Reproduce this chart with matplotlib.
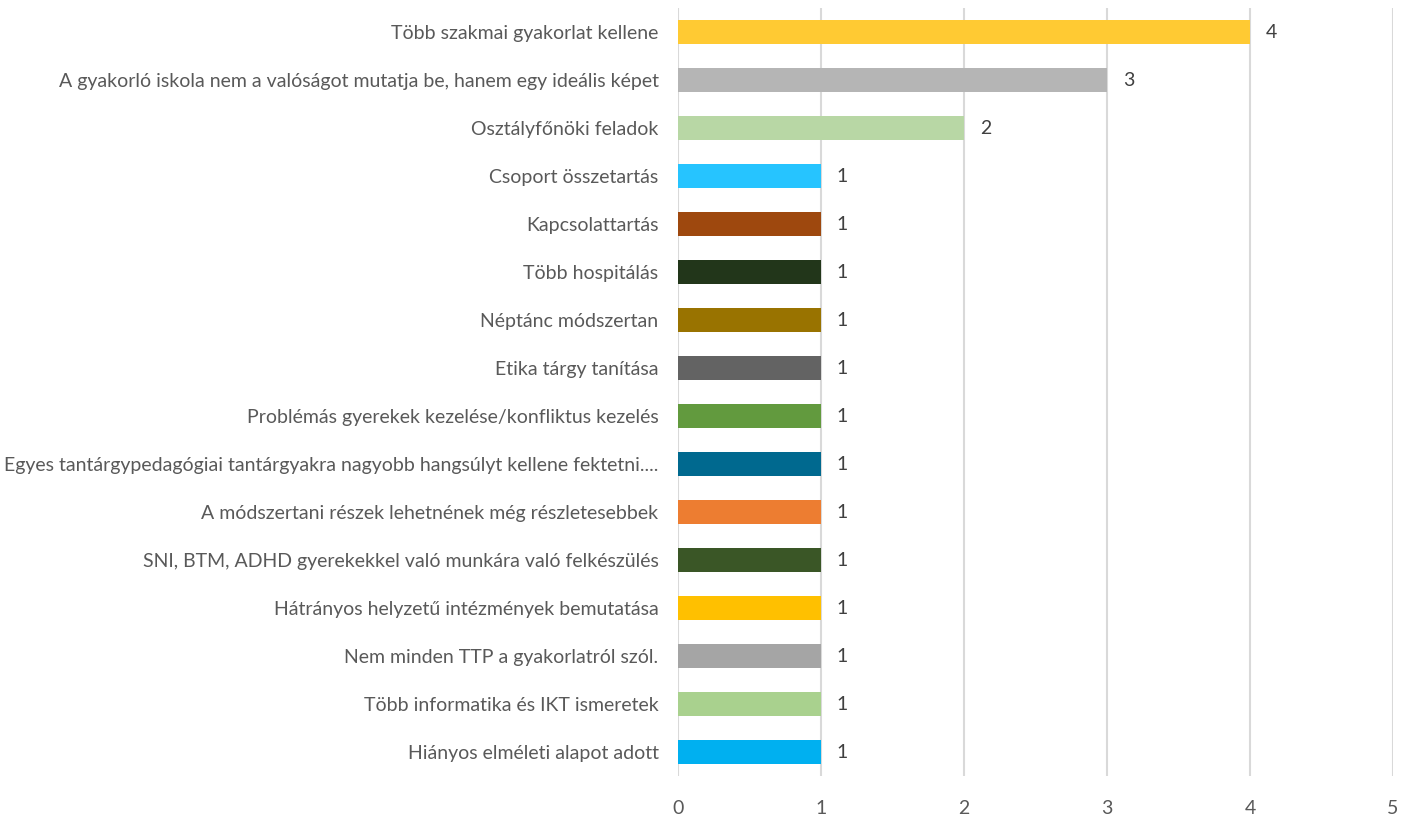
import matplotlib
matplotlib.use("Agg")
import matplotlib.pyplot as plt

categories = [
    "Több szakmai gyakorlat kellene",
    "A gyakorló iskola nem a valóságot mutatja be, hanem egy ideális képet",
    "Osztályfőnöki feladok",
    "Csoport összetartás",
    "Kapcsolattartás",
    "Több hospitálás",
    "Néptánc módszertan",
    "Etika tárgy tanítása",
    "Problémás gyerekek kezelése/konfliktus kezelés",
    "Egyes tantárgypedagógiai tantárgyakra nagyobb hangsúlyt kellene fektetni....",
    "A módszertani részek lehetnének még részletesebbek",
    "SNI, BTM, ADHD gyerekekkel való munkára való felkészülés",
    "Hátrányos helyzetű intézmények bemutatása",
    "Nem minden TTP a gyakorlatról szól.",
    "Több informatika és IKT ismeretek",
    "Hiányos elméleti alapot adott",
]
values = [4, 3, 2, 1, 1, 1, 1, 1, 1, 1, 1, 1, 1, 1, 1, 1]
colors = [
    "#FFCA33", "#B5B5B5", "#B8D7A5", "#26C4FF", "#9E480E", "#22361A",
    "#997300", "#636363", "#629A3E", "#00698F", "#ED7D31", "#3A5626",
    "#FFC000", "#A5A5A5", "#A9D18E", "#00B0F0",
]
xticks = [0, 1, 2, 3, 4, 5]

plt.rcParams['font.family'] = ['Lato', 'DejaVu Sans']

fig = plt.figure(figsize=(14.1, 8.18), dpi=100)
ax = fig.add_axes([678/1410, 1 - 776/818, (1393 - 678)/1410, (776 - 8)/818])

y = list(range(len(categories)))
ax.barh(y, values, height=0.48, color=colors, zorder=3)
for yi, v in zip(y, values):
    ax.text(v + 0.11, yi, str(v), va='center', ha='left', fontsize=14, color='#404040')

ax.set_yticks(y)
ax.set_yticklabels(categories, fontsize=14, color='#595959')
ax.set_ylim(len(categories) - 0.5, -0.5)
ax.set_xlim(0, 5)
ax.set_xticks(xticks)
ax.set_xticklabels([str(t) for t in xticks], fontsize=14, color='#595959')
ax.tick_params(axis='both', length=0)
ax.tick_params(axis='y', pad=14)
ax.tick_params(axis='x', pad=17)
ax.grid(axis='x', color='#D9D9D9', linewidth=1.5, zorder=0)
for s in ax.spines.values():
    s.set_visible(False)

fig.savefig("out.png", dpi=100, facecolor='white')
